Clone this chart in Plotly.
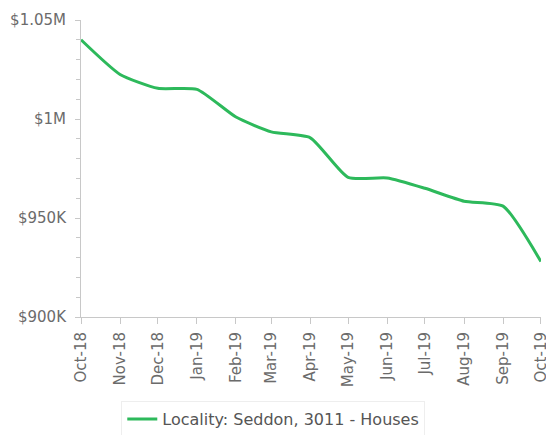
import plotly.graph_objects as go

months = ["2018-10-01", "2018-11-01", "2018-12-01", "2019-01-01", "2019-02-01",
          "2019-03-01", "2019-04-01", "2019-05-01", "2019-06-01", "2019-07-01",
          "2019-08-01", "2019-09-01", "2019-10-01"]
values = [1040000, 1022500, 1015500, 1015000, 1001000, 993500, 990500,
          970500, 970200, 965000, 958500, 956000, 928000]
series_name = "Locality: Seddon, 3011 - Houses"
y_tickvals = [900000, 950000, 1000000, 1050000]
y_ticktext = ["$900K", "$950K", "$1M", "$1.05M"]

fig = go.Figure()
fig.add_trace(go.Scatter(
    x=months, y=values, mode="lines", name=series_name,
    line=dict(color="#2DB95B", width=3, shape="spline", smoothing=0.55),
    showlegend=True, cliponaxis=False,
))

axis_grey = "#c8c8c8"
fig.update_layout(
    width=546, height=435,
    margin=dict(l=81, r=5, t=20, b=118, autoexpand=False),
    paper_bgcolor="white", plot_bgcolor="white",
    font=dict(family="DejaVu Sans", size=15, color="#6b6b6b"),
    showlegend=True,
    legend=dict(
        orientation="h", x=0.418, xanchor="center", y=-0.283, yanchor="top",
        bordercolor="#eeeeee", borderwidth=1,
        font=dict(size=16, color="#555555"),
    ),
    xaxis=dict(
        type="date", range=["2018-10-01", "2019-10-01 02:00"],
        tickvals=months, tickformat="%b-%y", tickangle=-90,
        ticklabeloverflow="allow", ticklabelstandoff=2,
        showgrid=False, zeroline=False, automargin=False,
        showline=True, linecolor=axis_grey, linewidth=1,
        ticks="outside", ticklen=6, tickcolor=axis_grey,
        tickfont=dict(size=15, color="#6b6b6b"),
    ),
    yaxis=dict(
        range=[900000, 1050000], automargin=False,
        tickvals=y_tickvals, ticktext=y_ticktext,
        ticklabelstandoff=6,
        showgrid=False, zeroline=False,
        showline=True, linecolor=axis_grey, linewidth=1,
        ticks="outside", ticklen=5, tickcolor=axis_grey,
        tickfont=dict(size=15, color="#6b6b6b"),
        minor=dict(dtick=10000, ticks="outside", ticklen=4, tickcolor=axis_grey, showgrid=False),
    ),
)

fig.write_html(
    "out.html",
    config={"displayModeBar": False},
    post_script="document.body.style.margin='0';document.body.style.overflow='hidden';",
)
